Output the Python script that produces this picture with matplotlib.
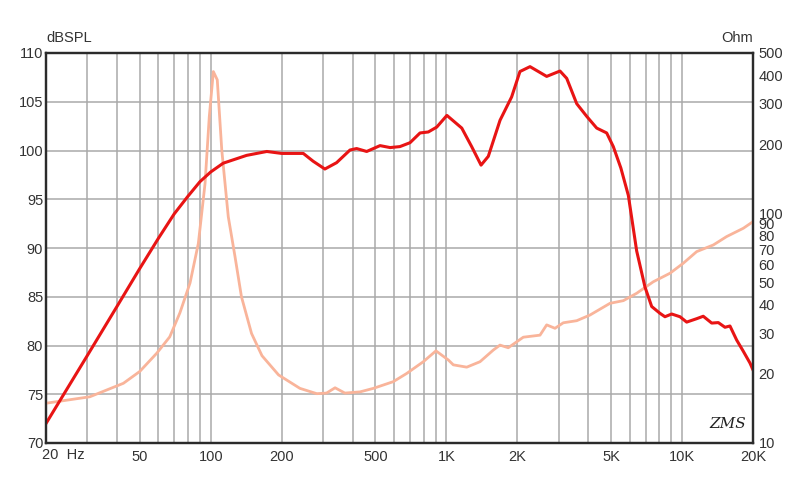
import numpy as np
import matplotlib
matplotlib.use("Agg")
import matplotlib.pyplot as plt
from matplotlib.ticker import FixedLocator, NullFormatter

plt.rcParams['font.family'] = ['Liberation Sans', 'DejaVu Sans']

# SPL response (Hz, dB)
spl_freq = [20, 30, 40, 50, 60, 70, 80, 90, 100, 113, 142, 173, 200, 247,
            272, 305, 342, 390, 416, 459, 523, 577, 635, 701, 773, 838, 910,
            1005, 1162, 1280, 1403, 1506, 1689, 1892, 2052, 2264, 2664, 3034,
            3240, 3573, 3940, 4343, 4788, 5108, 5500, 5916, 6418, 6961, 7432,
            8060, 8461, 9038, 9800, 10460, 11536, 12300, 13360, 14250, 15210,
            15970, 17050, 18200, 19420, 20000]
spl_db = [72.0, 79.0, 84.0, 87.9, 91.0, 93.5, 95.3, 96.8, 97.8, 98.7,
          99.5, 99.9, 99.7, 99.7, 98.9, 98.1, 98.75, 100.05, 100.2, 99.9,
          100.5, 100.3, 100.4, 100.8, 101.8, 101.9, 102.4, 103.6, 102.3, 100.4,
          98.5, 99.4, 103.1, 105.5, 108.1, 108.6, 107.6, 108.15, 107.4, 104.8,
          103.5, 102.3, 101.8, 100.4, 98.2, 95.4, 89.7, 86.0, 84.0, 83.3,
          82.95, 83.23, 82.95, 82.4, 82.75, 83.0, 82.3, 82.35, 81.87, 82.0,
          80.56, 79.4, 78.2, 77.5]

# impedance (Hz, Ohm)
imp_freq = [20, 30.7, 42.6, 50, 59, 67, 74, 81.7, 88.6, 94.6, 98.6, 102.6,
            106.6, 111.4, 118.7, 126.8, 135, 149, 165, 194, 239, 282, 310, 337,
            371, 430, 490, 595, 679, 798, 903, 1019, 1070, 1220, 1389, 1581,
            1688, 1830, 2120, 2496, 2664, 2890, 3134, 3572, 4068, 4946, 5635,
            6418, 7551, 8890, 10120, 11536, 13574, 15460, 18200, 20000]
imp_ohm = [14.9, 15.9, 18.2, 20.5, 24.6, 29, 36.9, 49.8, 74, 135, 264, 415,
           382, 189, 96.8, 64.8, 43.4, 30, 24, 19.8, 17.3, 16.4, 16.5, 17.4,
           16.5, 16.7, 17.3, 18.5, 20.1, 22.6, 25.2, 23, 21.9, 21.4, 22.6, 25.4,
           26.7, 26.0, 28.9, 29.5, 32.7, 31.6, 33.4, 34.1, 36.1, 40.6, 41.7,
           44.9, 50.4, 54.9, 60.7, 68.2, 72.9, 79.3, 86.2, 92.1]

x_ticks = [20, 50, 100, 200, 500, 1000, 2000, 5000, 10000, 20000]
x_labels = ['', '50', '100', '200', '500', '1K', '2K', '5K', '10K', '20K']
x_grid = [m * d for d in (10, 100, 1000, 10000) for m in range(2, 10)
          if 20 < m * d < 20000] + [100, 1000, 10000]
db_ticks = [70, 75, 80, 85, 90, 95, 100, 105, 110]
ohm_ticks = [10, 20, 30, 40, 50, 60, 70, 80, 90, 100, 200, 300, 400, 500]

txt = '#333333'
fig = plt.figure(figsize=(8, 4.84), dpi=100)
ax = fig.add_axes([46/800, 41/484, 707/800, 390/484])
ax.set_xscale('log')
ax.set_xlim(20, 20000)
ax.set_ylim(70, 110)
ax.set_xticks(x_ticks)
ax.set_xticklabels(x_labels)
ax.xaxis.set_minor_locator(FixedLocator(x_grid))
ax.xaxis.set_minor_formatter(NullFormatter())
ax.set_yticks(db_ticks)
ax.grid(which='both', axis='x', color='#a9a9a9', lw=1.1)
ax.grid(which='major', axis='y', color='#a9a9a9', lw=1.1)
ax.tick_params(which='both', length=0, labelsize=10.5, labelcolor=txt)
ax.tick_params(axis='x', pad=5)
ax.tick_params(axis='y', pad=2)

ax2 = ax.twinx()
ax2.set_yscale('log')
ax2.plot(imp_freq, imp_ohm, color='#f9b49a', lw=2.0, solid_joinstyle='round')
ax2.plot(spl_freq, spl_db, color='#e81414', lw=2.2, transform=ax.transData,
         solid_joinstyle='round')
ax2.set_xlim(20, 20000)
ax2.set_ylim(10, 500)
ax2.set_yticks(ohm_ticks)
ax2.set_yticklabels([str(t) for t in ohm_ticks])
ax2.yaxis.set_minor_locator(FixedLocator([]))
ax2.tick_params(which='both', length=0, labelsize=10.5, labelcolor=txt, pad=4)

for a in (ax, ax2):
    for s in a.spines.values():
        s.set_color('#2b2b2b')
        s.set_linewidth(1.6)

ax.text(-0.005, -0.012, '20  Hz', transform=ax.transAxes, ha='left', va='top',
        fontsize=10.5, color=txt)
ax.text(0.0, 1.02, 'dBSPL', transform=ax.transAxes, ha='left', va='bottom',
        fontsize=10.5, color=txt)
ax.text(1.0, 1.02, 'Ohm', transform=ax.transAxes, ha='right', va='bottom',
        fontsize=10.5, color=txt)
ax.text(0.99, 0.03, 'ZMS', transform=ax.transAxes, ha='right', va='bottom',
        fontsize=11, style='italic', color='#222222', family='DejaVu Serif')

fig.savefig('out.png', dpi=100)
